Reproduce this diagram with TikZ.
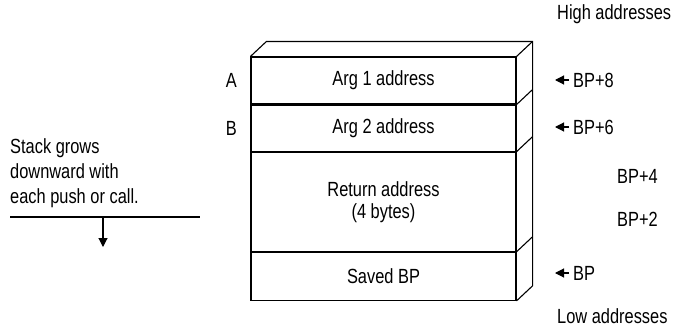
\documentclass[tikz,border=0pt]{standalone}
\usepackage{fontspec}
\setmainfont[FakeStretch=0.8]{Liberation Sans}
\usetikzlibrary{arrows.meta,positioning}
\tikzset{
  slot/.style={draw, line width=1.1pt, minimum width=265pt, inner sep=0pt},
  ptr/.style={-{Triangle[length=9pt,width=9pt]}, line width=1.1pt},
  lbl/.style={inner sep=0pt, anchor=west}
}
\begin{document}
\begin{tikzpicture}[x=1pt, y=-1pt, font=\fontsize{20.5}{24}\selectfont]
\useasboundingbox (0,0) rectangle (680,332);
% stack slots
\node[slot, minimum height=47pt] (arg1) at (383.5,80.5) {Arg 1 address};
\node[slot, minimum height=46pt, below=0pt of arg1] (arg2) {Arg 2 address};
\node[slot, minimum height=99pt, below=0pt of arg2, align=center] (ret) {Return address\\[-2pt](4 bytes)};
\node[slot, minimum height=48pt, below=0pt of ret] (saved) {Saved BP};
% depth of the box
\draw[line width=1.1pt] (arg1.north west) -- ++(16,-15) -- ([shift={(16,-15)}]arg1.north east)
  -- ([shift={(16,-15)}]saved.south east) -- (saved.south east);
\foreach \n in {arg1, arg2, ret, saved}
  \draw[line width=1.1pt] (\n.north east) -- ++(16,-15);
% labels
\node[lbl, anchor=east] (la) at (237,80) {A};
\node[lbl, anchor=east] (lb) at (237,128) {B};
\node[lbl] (high) at (557,14) {High addresses};
\node[lbl] (low) at (557,316) {Low addresses};
\node[lbl] (bp8) at (573,80) {BP+8};
\node[lbl] (bp6) at (573,127) {BP+6};
\node[lbl] (bp4) at (617,176) {BP+4};
\node[lbl] (bp2) at (617,219) {BP+2};
\node[lbl] (bp) at (573,273) {BP};
\foreach \n in {bp8, bp6, bp}
  \draw[ptr] ([xshift=-4pt]\n.west) -- ++(-14,0);
% growth note
\node[lbl, align=left, anchor=north west] (grow) at (10,138) {Stack grows\\[1pt]downward with\\[1pt]each push or call.};
\coordinate (ul) at (10,217);
\coordinate (ur) at (200,217);
\coordinate (top) at (103,217);
\coordinate (tip) at (103,247);
\draw[line width=1.1pt] (ul) -- (ur);
\draw[ptr] (top) -- (tip);
\end{tikzpicture}
\end{document}
